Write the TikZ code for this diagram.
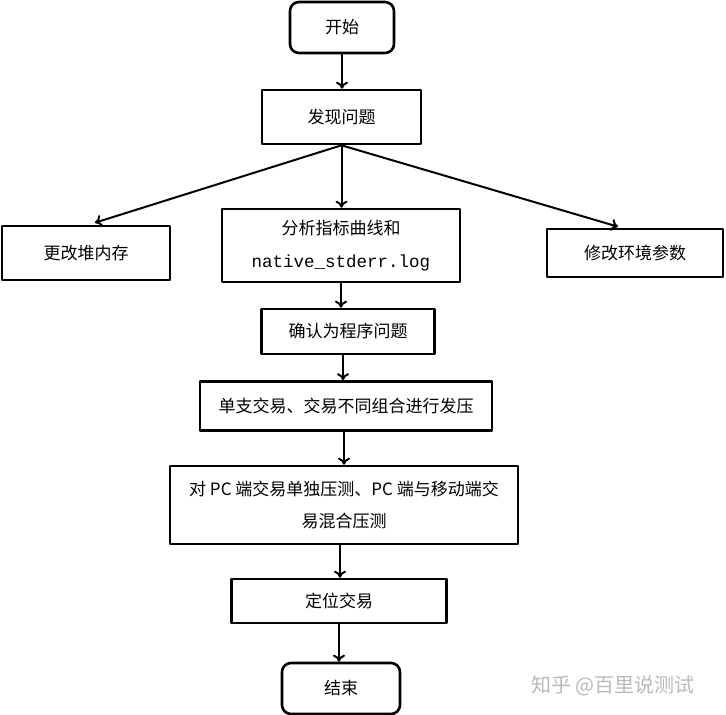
\documentclass[tikz,border=0pt]{standalone}
\usepackage{fontspec}
\setmainfont{Noto Sans CJK SC}
\setmonofont{Liberation Mono}
\usetikzlibrary{arrows.meta}
\begin{document}
\begin{tikzpicture}[line cap=round, line join=round, >={To[length=7pt,width=12pt]}, x=1pt, y=-1pt, font=\fontsize{17}{32}\selectfont]
	\tikzset{box/.style={draw, line width=2.6pt, inner sep=0pt, align=center},
		term/.style={box, rounded corners=9pt},
		arr/.style={->, line width=2pt}}
	\useasboundingbox (0,0) rectangle (726,715);
	\node[term, minimum width=104pt, minimum height=51pt] (ks) at (342,27.5) {开始};
	\node[box, minimum width=159pt, minimum height=54pt] (fxwt) at (341.5,117) {发现问题};
	\node[box, minimum width=168pt, minimum height=54pt] (ggdnc) at (86,253) {更改堆内存};
	\node[box, minimum width=238pt, minimum height=73pt] (fxzb) at (341,245.5) {分析指标曲线和\\[1pt]{\fontsize{17.5}{32}\selectfont\texttt{native\_stderr.log}}};
	\node[box, minimum width=176pt, minimum height=48pt] (xghj) at (635,253) {修改环境参数};
	\node[box, minimum width=173pt, minimum height=45pt] (qrcx) at (348,331.5) {确认为程序问题};
	\node[box, minimum width=292pt, minimum height=49pt] (dzjy) at (346,406) {单支交易、交易不同组合进行发压};
	\node[box, minimum width=348pt, minimum height=78pt] (pcyc) at (344,505) {对 PC 端交易单独压测、PC 端与移动端交\\易混合压测};
	\node[box, minimum width=215pt, minimum height=44pt] (dwjy) at (339,601) {定位交易};
	\node[term, minimum width=118pt, minimum height=51pt] (js) at (341,688.5) {结束};
	\node[anchor=west, text=gray!55, font=\fontsize{20}{20}\selectfont] (zh) at (528,686) {知乎 @百里说测试};
	\draw[arr] (ks.south) -- (ks.south |- fxwt.north);
	\draw[arr] (fxwt.south) -- (fxwt.south |- fxzb.north);
	\draw[arr] (fxwt.south) -- ([xshift=9pt, yshift=2pt]ggdnc.north);
	\draw[arr] (fxwt.south) -- ([xshift=-17pt, yshift=1pt]xghj.north);
	\draw[arr] (fxzb.south) -- (fxzb.south |- qrcx.north);
	\draw[arr] ([xshift=-5pt]qrcx.south) -- ([xshift=-5pt]qrcx.south |- dzjy.north);
	\draw[arr] ([xshift=-2pt]dzjy.south) -- ([xshift=-2pt]dzjy.south |- pcyc.north);
	\draw[arr] ([xshift=-4pt]pcyc.south) -- ([xshift=-4pt]pcyc.south |- dwjy.north);
	\draw[arr] (dwjy.south) -- (dwjy.south |- js.north);
\end{tikzpicture}
\end{document}
